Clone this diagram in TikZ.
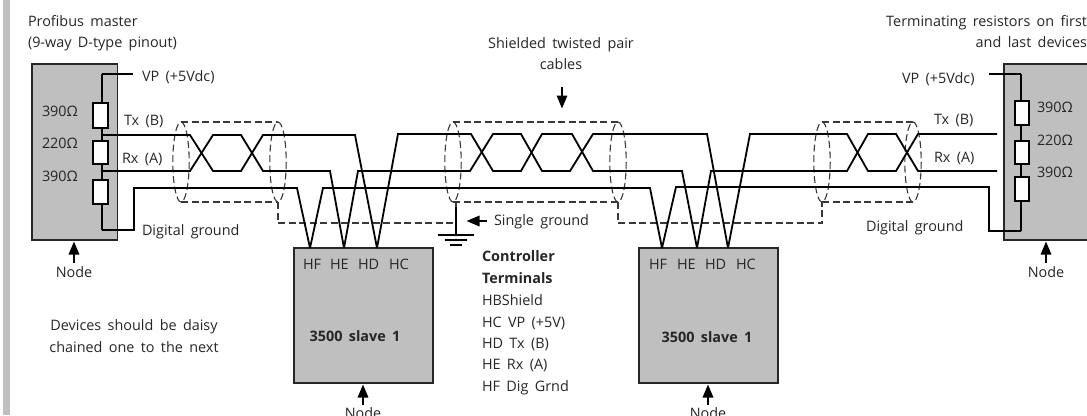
\documentclass[tikz,border=0pt]{standalone}
\usepackage{fontspec}
\setmainfont[WordSpace=1.7]{Open Sans}
\usetikzlibrary{arrows.meta}
\definecolor{boxgrey}{HTML}{BFBFBF}
\definecolor{shieldcol}{HTML}{383838}
\tikzset{
  lab/.style={inner sep=0pt,outer sep=0pt,anchor=base west,font=\fontsize{14.4}{16}\selectfont,text=black!85},
  labc/.style={lab,anchor=base},
  labe/.style={lab,anchor=base east},
  blab/.style={lab,font=\fontsize{14.4}{16}\selectfont\bfseries},
  blabc/.style={blab,anchor=base},
  unit/.style={draw=black!85,line width=1.8pt,fill=boxgrey},
  wire/.style={draw=black,line width=1.8pt,line join=miter},
  thinwire/.style={draw=black,line width=1.4pt},
  res/.style={draw=black,line width=1.6pt,fill=white},
  shield/.style={draw=shieldcol,line width=1.1pt,dash pattern=on 7pt off 3.5pt},
  pointer/.style={draw=black,line width=1.6pt,-{Triangle[length=13pt,width=10.5pt]}},
}
\newcommand{\ShieldEll}[1]{\draw[shield] (#1,162) ellipse [x radius=8.2,y radius=40];}
\begin{document}
\begin{tikzpicture}[x=1pt,y=-1pt]
\useasboundingbox (0,0) rectangle (1087,415);
\fill[boxgrey] (3,0) rectangle (10,415);
% units
\path[unit] (32,64) rectangle (117.5,240);
\path[unit] (1004,64) rectangle (1092,240);
\path[unit] (294,248) rectangle (433,383);
\path[unit] (639,248) rectangle (778,383);
% pins
\coordinate (LF) at (310,248);\coordinate (LE) at (344,248);\coordinate (LD) at (377,248);
\coordinate (RF) at (662,248);\coordinate (RE) at (697,248);\coordinate (RD) at (728,248);
\coordinate (mTop) at (102,74);\coordinate (mBot) at (102,230);
\coordinate (mTx) at (102,135);\coordinate (mRx) at (102,171);
\coordinate (tTop) at (1021,74);\coordinate (tBot) at (1021,231);
\coordinate (tTx) at (997,134);\coordinate (tRx) at (997,171);
% resistor chains
\draw[wire] (mTop) -- (mBot);
\draw[wire] (tTop) -- (tBot);
\draw[res] (93,103) rectangle (108,128);
\draw[res] (93,141) rectangle (108,164);
\draw[res] (93,180) rectangle (108,204);
\draw[res] (1015,101) rectangle (1029,125);
\draw[res] (1015,141) rectangle (1029,164);
\draw[res] (1015,177) rectangle (1029,201);
% VP leads
\coordinate (vpL) at (133,74);\coordinate (vpR) at (989,74);
\draw[thinwire] (mTop) -- (vpL);
\draw[thinwire] (vpR) -- (tTop);
% shield screens
\ShieldEll{181}\ShieldEll{278}\ShieldEll{453}\ShieldEll{618}\ShieldEll{822}\ShieldEll{913}
\draw[shield] (181,122) -- (278,122);
\draw[shield] (181,202) -- (278,202);
\draw[shield] (453,122) -- (618,122);
\draw[shield] (453,202) -- (618,202);
\draw[shield] (822,122) -- (913,122);
\draw[shield] (822,202) -- (913,202);
\coordinate (gnd) at (456,223);
\draw[shield] (278,202) -- (278,223) -- (gnd);
\draw[shield] (618,202) -- (618,223) -- (822,223) -- (822,202);
\draw[shield] (456,202) -- (456,207);
% twisted data wires
\draw[wire] (mTx) -- (190,135) -- (213,171) -- (241,171) -- (263,135) -- (355,135) -- (LD);
\draw[wire] (mRx) -- (190,171) -- (213,135) -- (241,135) -- (263,171) -- (330,171) -- (LE);
\draw[wire] (LE) -- (358,171) -- (470,171) -- (493,134) -- (521,134) -- (542,171) -- (570,171) -- (593,134) -- (707,134) -- (RD);
\draw[wire] (LD) -- (398,134) -- (471,134) -- (493,171) -- (521,171) -- (542,134) -- (572,134) -- (593,171) -- (682,171) -- (RE);
\draw[wire] (RE) -- (711,171) -- (847,171) -- (868,134) -- (896,134) -- (918,171) -- (tRx);
\draw[wire] (RD) -- (750,134) -- (847,134) -- (868,171) -- (896,171) -- (918,134) -- (tTx);
% digital ground
\draw[wire] (mBot) -- (134,230) -- (134,188) -- (297,188) -- (LF);
\draw[wire] (LF) -- (323,188) -- (650,188) -- (RF);
\draw[wire] (RF) -- (676,187) -- (989,187) -- (989,231) -- (tBot);
% earth symbol
\coordinate (e0) at (456,235);
\draw[wire,line width=1.4pt] (456,207) -- (e0);
\draw[thinwire] (438,235) -- (474,235);
\draw[thinwire] (445,240) -- (467,240);
\draw[thinwire] (450,245) -- (462,245);
% texts
\node[lab] (t1) at (28,26) {Profibus master};
\node[lab] (t2) at (28,47) {(9-way D-type pinout)};
\node[lab] (t3) at (142,81) {VP (+5Vdc)};
\node[lab] (r1) at (42,116) {390Ω};
\node[lab] (r2) at (42,148) {220Ω};
\node[lab] (r3) at (42,181) {390Ω};
\node[lab] (tx1) at (124,125) {Tx (B)};
\node[lab] (rx1) at (122,163) {Rx (A)};
\node[lab] (dg1) at (142,235) {Digital ground};
\node[labc] (nd1) at (74,277) {Node};
\node[labc] (dv1) at (134,330) {Devices should be daisy};
\node[labc] (dv2) at (134,352) {chained one to the next};
\node[labc] (sh1) at (561,48) {Shielded twisted pair};
\node[labc] (sh2) at (561,69) {cables};
\node[lab] (sg) at (494,225) {Single ground};
\node[labe] (tr1) at (1087,26) {Terminating resistors on first};
\node[labe] (tr2) at (1087,47) {and last devices};
\node[lab] (t4) at (902,83) {VP (+5Vdc)};
\node[lab] (r4) at (1037,112) {390Ω};
\node[lab] (r5) at (1037,145) {220Ω};
\node[lab] (r6) at (1037,177) {390Ω};
\node[lab] (tx2) at (934,124) {Tx (B)};
\node[lab] (rx2) at (934,162) {Rx (A)};
\node[lab] (dg2) at (866,231) {Digital ground};
\node[labc] (nd2) at (1046,277) {Node};
\foreach \n/\x/\t in {a/303/HF,b/330/HE,c/358/HD,d/389/HC,e/649/HF,f/677/HE,g/705/HD,h/736/HC}
  \node[lab] (pin\n) at (\x,269) {\t};
\node[blabc] (s1) at (355,341) {3500 slave 1};
\node[blabc] (s2) at (707,342) {3500 slave 1};
\node[labc] (nd3) at (363,418) {Node};
\node[labc] (nd4) at (708,418) {Node};
\node[blab] (c1) at (482,261) {Controller};
\node[blab] (c2) at (482,283) {Terminals};
\node[lab] (c3) at (482,305) {HBShield};
\node[lab] (c4) at (482,327) {HC VP (+5V)};
\node[lab] (c5) at (482,348) {HD Tx (B)};
\node[lab] (c6) at (482,369) {HE Rx (A)};
\node[lab] (c7) at (482,391) {HF Dig Grnd};
% pointers
\draw[pointer] (74,263) coordinate (p1) -- (74,241.5);
\draw[pointer] (1046,263) coordinate (p2) -- (1046,241.5);
\draw[pointer] (363,405) coordinate (p3) -- (363,384.5);
\draw[pointer] (708,405) coordinate (p4) -- (708,384.5);
\draw[pointer] (562,87) coordinate (p5) -- (562,108.5);
\draw[pointer] (487,221) coordinate (p6) -- (466.5,221);
\end{tikzpicture}
\end{document}
